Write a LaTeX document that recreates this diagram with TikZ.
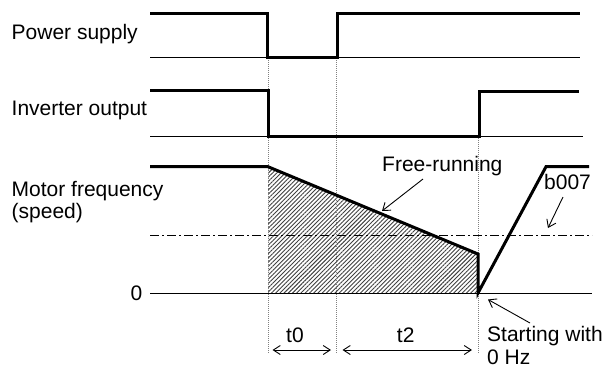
\documentclass[tikz,border=0pt]{standalone}
\usepackage{fontspec}
\setmainfont{Liberation Sans}
\usetikzlibrary{arrows.meta,patterns.meta}
\begin{document}
\begin{tikzpicture}[x=1pt,y=-1pt,
  lbl/.style={inner sep=0pt,font=\fontsize{21}{25}\selectfont},
  sig/.style={line width=3pt,line join=miter},
  base/.style={line width=1pt},
  guide/.style={gray,line width=0.9pt,dash pattern=on 1pt off 1pt},
  level/.style={line width=0.9pt,dash pattern=on 9pt off 3pt on 2pt off 3pt},
  ptr/.style={line width=0.9pt,-{Straight Barb[length=7pt,width=10pt]}},
  span/.style={line width=0.9pt,{Straight Barb[length=7pt,width=9pt]}-{Straight Barb[length=7pt,width=9pt]}}]
\useasboundingbox (0,0) rectangle (611,365);
% labels
\node[lbl,anchor=base west] (ps) at (11.5,39.3) {Power supply};
\node[lbl,anchor=base west] (io) at (11.5,115) {Inverter output};
\node[lbl,anchor=base west] (mf) at (11.5,196.7) {Motor frequency};
\node[lbl,anchor=base west] (sp) at (11.5,218.5) {(speed)};
\node[lbl,anchor=base east] (zero) at (142.5,300) {0};
% key coordinates
\coordinate (psL) at (150,13.3);
\coordinate (psD1) at (267,13.3);
\coordinate (psD2) at (267,57.3);
\coordinate (psU1) at (337,57.3);
\coordinate (psU2) at (337,13.3);
\coordinate (psR) at (580,13.3);
\coordinate (psB0) at (150,57.3);
\coordinate (psB1) at (580,57.3);
\coordinate (ioL) at (150,90.5);
\coordinate (ioD1) at (268,90.5);
\coordinate (ioD2) at (268,136);
\coordinate (ioU1) at (479,136);
\coordinate (ioU2) at (479,91);
\coordinate (ioR) at (579,91);
\coordinate (ioB0) at (150,136);
\coordinate (ioB1) at (583,136);
\coordinate (mL) at (150,166.7);
\coordinate (mA) at (268,166.7);
\coordinate (mB) at (478,254);
\coordinate (mC) at (478,293);
\coordinate (mD) at (546,166.7);
\coordinate (mR) at (589,166.7);
\coordinate (z0) at (150,293);
\coordinate (z1) at (592,293);
\coordinate (hA) at (268,293);
\coordinate (l0) at (150,235.7);
\coordinate (l1) at (592,235.7);
% guides
\coordinate (g1t) at (268,58); \coordinate (g1b) at (268,353);
\coordinate (g2t) at (336,58); \coordinate (g2b) at (336,353);
\coordinate (g3t) at (478,136); \coordinate (g3b) at (478,353);
% hatched area
\fill[pattern={Lines[angle=45,distance=3pt,line width=0.9pt]},pattern color=black!75] (hA) -- (mA) -- (mB) -- (mC) -- cycle;
\draw[guide] (g1t) -- (g1b);
\draw[guide] (g2t) -- (g2b);
\draw[guide] (g3t) -- (g3b);
% baselines
\draw[base] (psB0) -- (psB1);
\draw[base] (ioB0) -- (ioB1);
\draw[base] (z0) -- (z1);
\draw[level] (l0) -- (l1);
% signals
\draw[sig] (psL) -- (psD1) -- (psD2) -- (psU1) -- (psU2) -- (psR);
\draw[sig] (ioL) -- (ioD1) -- (ioD2) -- (ioU1) -- (ioU2) -- (ioR);
\draw[sig] (mL) -- (mA) -- (mB) -- (mC) -- (mD) -- (mR);
% annotations
\node[lbl,anchor=base west] (fr) at (382,171.7) {Free-running};
\coordinate (frT) at (423,179); \coordinate (frH) at (382,211);
\draw[ptr] (frT) -- (frH);
\node[lbl,anchor=base west] (b7) at (544,189) {b007};
\coordinate (b7T) at (563,197); \coordinate (b7H) at (548,228);
\draw[ptr] (b7T) -- (b7H);
\node[lbl,anchor=base west] (sw) at (487,341.2) {Starting with};
\node[lbl,anchor=base west] (hz) at (487,364.3) {0 Hz};
\coordinate (swT) at (530,323); \coordinate (swH) at (488,299.5);
\draw[ptr] (swT) -- (swH);
\node[lbl,anchor=base] (t0) at (295,342) {t0};
\node[lbl,anchor=base] (t2) at (405.7,342) {t2};
\coordinate (a0l) at (272.5,350); \coordinate (a0r) at (331,350);
\coordinate (a2l) at (342.5,350); \coordinate (a2r) at (472,350);
\draw[span] (a0l) -- (a0r);
\draw[span] (a2l) -- (a2r);
\end{tikzpicture}
\end{document}
